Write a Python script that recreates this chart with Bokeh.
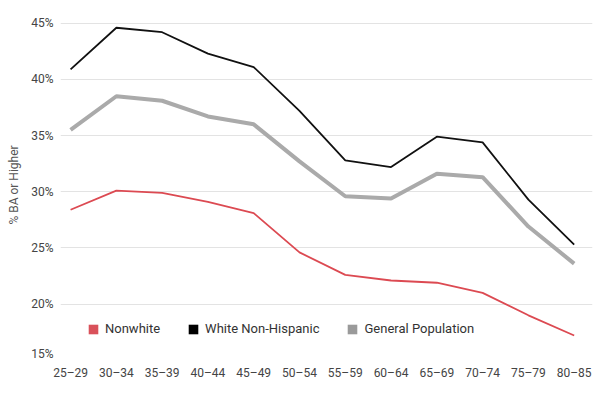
from bokeh.plotting import figure
from bokeh.models import FixedTicker, Legend, LegendItem, Range1d
from bokeh.embed import file_html
from bokeh.resources import INLINE

age_groups = ["25–29", "30–34", "35–39", "40–44", "45–49", "50–54",
              "55–59", "60–64", "65–69", "70–74", "75–79", "80–85"]
nonwhite = [28.4, 30.1, 29.9, 29.1, 28.1, 24.6, 22.6, 22.1, 21.9, 21.0, 19.0, 17.2]
white_non_hispanic = [40.9, 44.6, 44.2, 42.3, 41.1, 37.2, 32.8, 32.2, 34.9, 34.4, 29.3, 25.3]
general_population = [35.5, 38.5, 38.1, 36.7, 36.0, 32.7, 29.6, 29.4, 31.6, 31.3, 26.9, 23.6]
y_ticks = [15.6, 20, 25, 30, 35, 40, 45]
y_tick_labels = ["15%", "20%", "25%", "30%", "35%", "40%", "45%"]

idx = list(range(len(age_groups)))
FONT = "Roboto"
NAN = float("nan")

p = figure(width=600, height=393, output_backend="svg", toolbar_location=None,
           x_range=Range1d(-0.22, 11.40), y_range=Range1d(15.6, 45.6),
           min_border_left=60, min_border_right=8, min_border_top=16, min_border_bottom=40)
p.outline_line_color = None
p.background_fill_color = "white"
p.border_fill_color = "white"

red = "#dc4a52"
black = "#111111"
grey = "#aaaaaa"

r_gen = p.line(idx, general_population, line_color=grey, line_width=4)
r_white = p.line(idx, white_non_hispanic, line_color=black, line_width=1.8)
r_non = p.line(idx, nonwhite, line_color=red, line_width=1.8)

# legend proxies (square swatches), no visible marks on the plot
q_non = p.quad(left=[NAN], right=[NAN], top=[NAN], bottom=[NAN], fill_color="#d9515a", line_color=None)
q_white = p.quad(left=[NAN], right=[NAN], top=[NAN], bottom=[NAN], fill_color="#000000", line_color=None)
q_gen = p.quad(left=[NAN], right=[NAN], top=[NAN], bottom=[NAN], fill_color="#9a9a9a", line_color=None)

legend = Legend(items=[
    LegendItem(label="Nonwhite", renderers=[q_non]),
    LegendItem(label="White Non-Hispanic", renderers=[q_white]),
    LegendItem(label="General Population", renderers=[q_gen]),
], orientation="horizontal", location=(27, 17), padding=0, margin=0,
    spacing=27, label_standoff=6, glyph_width=12, glyph_height=12,
    label_height=12, label_text_font=FONT, label_text_font_size="13px",
    label_text_color="#333333", background_fill_alpha=0, border_line_color=None)
p.add_layout(legend)

# axes
p.xaxis.ticker = FixedTicker(ticks=idx)
p.xaxis.major_label_overrides = {i: lab for i, lab in zip(idx, age_groups)}
p.yaxis.ticker = FixedTicker(ticks=y_ticks)
p.yaxis.major_label_overrides = {t: lab for t, lab in zip(y_ticks, y_tick_labels)}

for ax in (p.xaxis[0], p.yaxis[0]):
    ax.axis_line_color = None
    ax.major_tick_line_color = None
    ax.minor_tick_line_color = None
    ax.major_tick_out = 0
    ax.major_tick_in = 0
    ax.minor_tick_out = 0
    ax.minor_tick_in = 0
    ax.major_label_text_font = FONT
    ax.major_label_text_font_size = "12px"
    ax.major_label_text_color = "#444444"

p.xaxis.major_label_standoff = 12
p.yaxis.major_label_standoff = 7
p.yaxis.axis_label = "% BA or Higher"
p.yaxis.axis_label_text_font = FONT
p.yaxis.axis_label_text_font_size = "12px"
p.yaxis.axis_label_text_font_style = "normal"
p.yaxis.axis_label_text_color = "#555555"
p.yaxis.axis_label_standoff = 7

p.xgrid.grid_line_color = None
p.ygrid.grid_line_color = "#e3e3e3"
p.ygrid.grid_line_width = 1
p.ygrid.ticker = FixedTicker(ticks=y_ticks)

open("out.html", "w").write(file_html(p, INLINE))
